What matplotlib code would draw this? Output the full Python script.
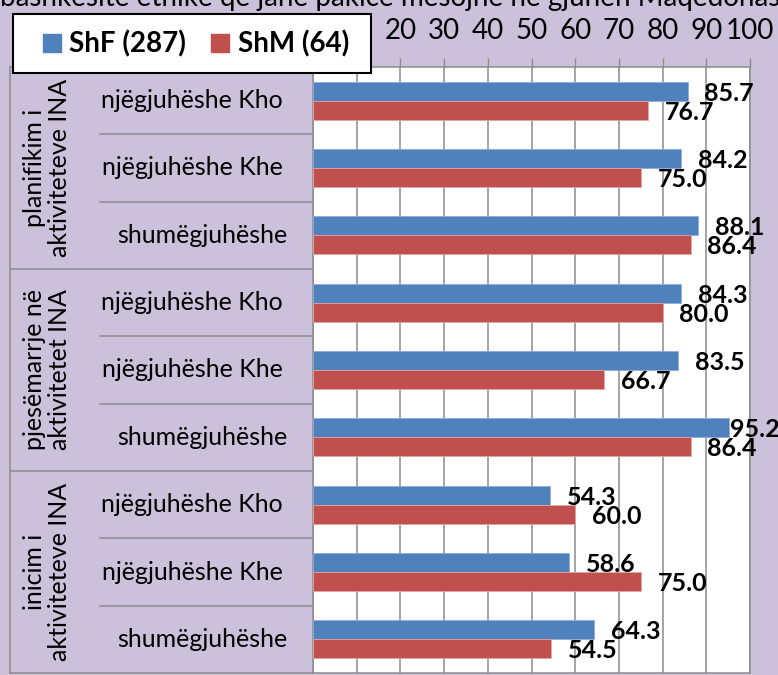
import numpy as np
import matplotlib.pyplot as plt
from matplotlib.patches import Patch, Rectangle

# Data
groups = ['planifikim i\naktiviteteve INA', 'pjesëmarrje në\naktivitetet INA', 'inicim i\naktiviteteve INA']
subgroups = ['njëgjuhëshe Kho', 'njëgjuhëshe Khe', 'shumëgjuhëshe']
shf = [85.7, 84.2, 88.1, 84.3, 83.5, 95.2, 54.3, 58.6, 64.3]
shm = [76.7, 75.0, 86.4, 80.0, 66.7, 86.4, 60.0, 75.0, 54.5]
series_names = ['ShF (287)', 'ShM (64)']
xticks = list(range(0, 101, 10))
title = 'bashkësitë etnike që janë pakicë mësojnë në gjuhën Maqedonase'

# Style
W, H = 778, 675
bg = '#CCC1DA'
blue = '#4F81BD'
red = '#C0504D'
grey = '#8C8C8C'
fs = 18
fs_big = 20

plt.rcParams['font.family'] = ['Lato', 'DejaVu Sans']


def fx(px):
    return px / W


def fy(py):
    return 1 - py / H


fig = plt.figure(figsize=(W / 100, H / 100), dpi=100, facecolor=bg)

left, right, top, bottom = 313, 750, 67, 673
n = len(shf)
y = np.arange(n)
bh = 0.28

# Bars
ax = fig.add_axes([fx(left), fy(bottom), (right - left) / W, (bottom - top) / H])
ax.set_facecolor('white')
ax.barh(y - bh / 2, shf, height=bh, color=blue, edgecolor='#8EAADB', lw=0.6, zorder=3)
ax.barh(y + bh / 2, shm, height=bh, color=red, edgecolor='#E6A5A3', lw=0.6, zorder=3)
ax.set_xlim(0, 100)
ax.set_ylim(n - 0.5, -0.5)


def value_label(v, yy):
    # labels near the right edge get pulled back against the bar end
    dx = 12 if v < 92 else 0.5
    ax.annotate(f'{v:.1f}', (v, yy), xytext=(dx, -1.5), textcoords='offset points',
                ha='left', va='center', fontsize=fs, fontweight='bold', annotation_clip=False)


for yy, v in zip(y - bh / 2, shf):
    value_label(v, yy)
for yy, v in zip(y + bh / 2, shm):
    value_label(v, yy)

ax.xaxis.tick_top()
ax.set_xticks(xticks)
ax.tick_params(axis='x', length=6.5, width=1, color=grey, pad=10, labelsize=fs_big)
ax.set_yticks([])
ax.grid(axis='x', color=grey, lw=1.1, zorder=0)
for s in ax.spines.values():
    s.set_color(grey)
    s.set_linewidth(1.1)

# Category labels on the left
lab = fig.add_axes([fx(10), fy(bottom), (left - 10) / W, (bottom - top) / H])
lab.set_xlim(10, left)
lab.set_ylim(n - 0.5, -0.5)
lab.axis('off')
lab.plot([10, 10], [-0.5, n - 0.5], color=grey, lw=1.1, clip_on=False)
for k in [0, 3, 6, 9]:
    lab.plot([10, left], [k - 0.5, k - 0.5], color=grey, lw=1.1, clip_on=False)
for g in range(len(groups)):
    for j in (1, 2):
        k = g * 3 + j
        lab.plot([100, left], [k - 0.5, k - 0.5], color=grey, lw=1.1, clip_on=False)
    lab.text(47, g * 3 + 1, groups[g], rotation=90, ha='center', va='center',
             fontsize=fs, linespacing=1.1, multialignment='center')
    for j, name in enumerate(subgroups):
        cx = 202 if name.startswith('shum') else 192
        lab.text(cx, g * 3 + j, name, ha='center', va='center', fontsize=fs)

# Legend box sits over the first tick labels
fig.patches.append(Rectangle((fx(13), fy(73)), 358 / W, 59 / H, transform=fig.transFigure,
                             facecolor='white', edgecolor='black', lw=1.5, zorder=5))
handles = [Patch(color=blue), Patch(color=red)]
fig.legend(handles, series_names, loc='center', bbox_to_anchor=(fx(196), fy(44)), ncol=2,
           frameon=False, prop={'weight': 'bold', 'size': fs_big}, handlelength=0.65,
           handleheight=0.65, handletextpad=0.3, columnspacing=0.9).set_zorder(6)

fig.text(fx(0), fy(6), title, fontsize=fs_big, ha='left', va='baseline')

fig.savefig('out.png', dpi=100, facecolor=bg)
